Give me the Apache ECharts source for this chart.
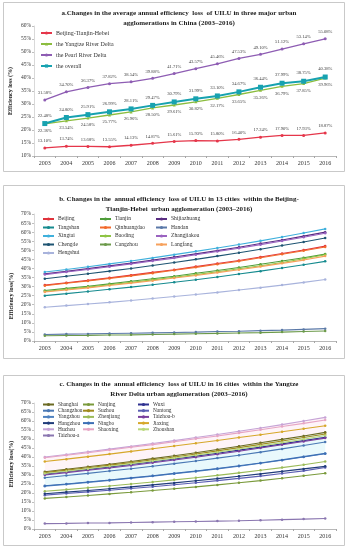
<!DOCTYPE html>
<html><head><meta charset="utf-8">
<script src="https://cdn.jsdelivr.net/npm/echarts@6/dist/echarts.min.js"></script>
<style>html,body{margin:0;padding:0;background:#fff}#c{width:348px;height:550px}</style>
</head><body><div id="c"></div>
<script>
const years = ['2003','2004','2005','2006','2007','2008','2009','2010','2011','2012','2013','2014','2015','2016'];

// Panel a
const aBTH     = [13.10,13.74,13.68,13.55,14.13,14.87,15.61,15.93,15.80,16.40,17.24,17.90,17.93,18.87];
const aYangtze = [22.36,23.54,24.58,25.77,26.96,28.50,29.61,30.82,32.17,33.65,35.26,36.79,37.85,39.96];
const aPearl   = [31.58,34.70,36.37,37.82,38.54,39.88,41.71,43.57,45.46,47.53,49.10,51.12,53.14,55.08];
const aOverall = [22.48,24.80,25.91,26.99,28.11,29.47,30.79,31.99,33.10,34.67,36.44,37.99,38.75,40.38];

// Panel b (Beijing-Tianjin-Hebei cities)
const bBeijing      = [30.8,32.1,33.4,34.8,36.3,37.8,39.3,41.0,42.7,44.4,46.3,48.2,50.2,52.3];
const bTianjin      = [27.8,29.0,30.2,31.5,32.9,34.3,35.7,37.3,38.9,40.5,42.3,44.1,45.9,47.9];
const bShijiazhuang = [37.0,38.4,39.9,41.4,42.9,44.6,46.3,48.0,49.8,51.7,53.7,55.7,57.8,60.0];
const bTangshan     = [25.0,26.1,27.3,28.5,29.7,31.0,32.4,33.8,35.3,36.9,38.5,40.2,42.0,43.9];
const bQinhuangdao  = [30.5,31.8,33.1,34.5,35.9,37.4,39.0,40.6,42.3,44.0,45.9,47.8,49.7,51.8];
const bHandan       = [3.6,3.8,3.9,4.1,4.3,4.5,4.7,4.9,5.2,5.4,5.7,6.0,6.4,6.8];
const bXingtai      = [38.0,39.4,40.9,42.5,44.1,45.8,47.6,49.4,51.3,53.2,55.2,57.3,59.5,61.8];
const bBaoding      = [27.3,28.5,29.7,31.0,32.3,33.7,35.1,36.6,38.2,39.8,41.5,43.3,45.3,47.5];
const bZhangjiakou  = [36.6,38.0,39.4,40.9,42.5,44.1,45.7,47.5,49.3,51.1,53.1,55.1,57.2,59.4];
const bChengde      = [34.3,35.7,37.1,38.5,40.0,41.6,43.3,45.0,46.8,48.6,50.6,52.6,54.6,56.8];
const bCangzhou     = [2.9,3.0,3.1,3.3,3.4,3.6,3.8,4.0,4.2,4.4,4.6,4.9,5.2,5.5];
const bLangfang     = [27.0,28.1,29.3,30.6,31.9,33.2,34.7,36.1,37.7,39.3,41.0,42.8,44.6,46.8];
const bHengshui     = [18.6,19.5,20.4,21.3,22.3,23.4,24.5,25.6,26.8,28.1,29.4,30.8,32.3,33.9];

// Panel c (Yangtze River Delta cities)
const cShanghai  = [31.8,33.2,34.6,36.0,37.5,39.1,40.7,42.4,44.2,46.0,47.9,49.8,51.7,53.7];
const cNanjing   = [17.0,17.8,18.6,19.5,20.4,21.4,22.4,23.4,24.5,25.7,26.9,28.2,29.6,31.0];
const cWuxi      = [30.5,31.8,33.1,34.5,35.9,37.4,38.9,40.5,42.1,43.8,45.5,47.3,49.1,51.0];
const cChangzhou = [28.5,29.7,30.9,32.2,33.5,34.9,36.3,37.8,39.4,41.0,42.7,44.5,46.4,48.3];
const cSuzhou    = [31.3,32.7,34.0,35.5,36.9,38.5,40.0,41.7,43.4,45.2,47.0,48.9,50.8,52.8];
const cNantong   = [18.8,19.7,20.6,21.5,22.5,23.5,24.6,25.7,26.9,28.1,29.4,30.8,32.3,34.2];
const cYangzhou  = [23.8,24.8,25.9,27.0,28.2,29.4,30.7,32.0,33.4,34.9,36.5,38.2,40.0,41.8];
const cZhenjiang = [21.0,21.9,22.9,23.9,25.0,26.1,27.3,28.5,29.8,31.2,32.6,34.1,35.7,37.5];
const cTaizhouB  = [30.0,31.3,32.6,33.9,35.3,36.8,38.3,39.9,41.5,43.2,45.0,46.8,48.6,50.5];
const cHangzhou  = [19.6,20.5,21.4,22.4,23.4,24.5,25.6,26.8,28.0,29.3,30.6,32.0,33.4,34.8];
const cNingbo    = [24.0,25.0,26.1,27.2,28.4,29.6,30.9,32.2,33.6,35.1,36.7,38.4,40.2,42.0];
const cJiaxing   = [37.5,38.8,40.2,41.6,43.1,44.6,46.1,47.6,49.2,50.8,52.4,54.0,55.7,57.4];
const cHuzhou    = [40.0,41.4,42.9,44.4,45.9,47.5,49.1,50.8,52.5,54.3,56.1,58.0,60.0,62.0];
const cShaoxing  = [39.6,41.0,42.4,43.9,45.4,46.9,48.5,50.1,51.7,53.4,55.1,56.9,58.7,60.6];
const cZhoushan  = [30.8,32.1,33.5,34.9,36.3,37.8,39.4,41.0,42.7,44.4,46.2,48.0,49.9,51.9];
const cTaizhouA  = [3.0,3.1,3.3,3.4,3.6,3.8,4.0,4.2,4.4,4.6,4.9,5.2,5.5,5.8];

const FONT = '"Liberation Serif","DejaVu Serif",serif';
const chart = echarts.init(document.getElementById('c'), null, {renderer:'canvas'});

function xAx(gi){
  return {type:'category', gridIndex:gi, data:years, boundaryGap:true,
    axisLine:{lineStyle:{color:'#a6a6a6', width:0.8}},
    axisTick:{show:true, length:2, lineStyle:{color:'#a6a6a6'}},
    axisLabel:{fontFamily:FONT, fontSize:6, color:'#333', margin:4}};
}
function yAx(gi, min, max){
  return {type:'value', gridIndex:gi, min:min, max:max, interval:5,
    axisLine:{show:true, lineStyle:{color:'#bfbfbf', width:0.6}},
    axisTick:{show:true, length:2, lineStyle:{color:'#bfbfbf'}},
    splitLine:{show:false},
    axisLabel:{fontFamily:FONT, fontSize:5.5, color:'#333', margin:3, formatter:v=>v+'%'}};
}

function lineS(name, data, color, gi, opt){
  opt = opt || {};
  return Object.assign({
    name:name, type:'line', xAxisIndex:gi, yAxisIndex:gi, data:data,
    color:color, symbol:'circle', symbolSize:2.5, showSymbol:true,
    lineStyle:{width:1.1, color:color}, itemStyle:{color:color},
    animation:false, z:3
  }, opt);
}

function labelOpt(pos){
  return {show:true, position:pos, distance:3, fontFamily:FONT, fontSize:4.6, color:'#404040',
    formatter:p=>p.value.toFixed(2)+'%'};
}

const series = [];
// Panel a
series.push(lineS('Beijing-Tianjin-Hebei', aBTH, '#e5364a', 0, {lineStyle:{width:1.3,color:'#e5364a'}, symbol:'circle', symbolSize:3, label:labelOpt('top')}));
series.push(lineS('the Yangtze River Delta', aYangtze, '#8cbd3f', 0, {lineStyle:{width:1.3,color:'#8cbd3f'}, symbol:'triangle', symbolSize:3, label:labelOpt('bottom')}));
series.push(lineS('the Pearl River Delta', aPearl, '#8e5db3', 0, {lineStyle:{width:1.3,color:'#8e5db3'}, symbol:'circle', symbolSize:3, label:labelOpt('top')}));
series.push(lineS('the overall', aOverall, '#17a2b0', 0, {lineStyle:{width:2,color:'#17a2b0'}, symbol:'rect', symbolSize:5, label:labelOpt('top')}));

// Panel b
const bDefs = [
 ['Beijing', bBeijing, '#e0333c'], ['Tianjin', bTianjin, '#4f9d3a'], ['Shijiazhuang', bShijiazhuang, '#5a2d82'],
 ['Tangshan', bTangshan, '#168b8f'], ['Qinhuangdao', bQinhuangdao, '#f26a2c'], ['Handan', bHandan, '#5b79a8'],
 ['Xingtai', bXingtai, '#3fb0dc'], ['Baoding', bBaoding, '#8fc444'], ['Zhangjiakou', bZhangjiakou, '#9a63c0'],
 ['Chengde', bChengde, '#1e5472'], ['Cangzhou', bCangzhou, '#6c9a4a'], ['Langfang', bLangfang, '#f6a15c'],
 ['Hengshui', bHengshui, '#a8b3dc']
];
bDefs.forEach(d=>series.push(lineS(d[0], d[1], d[2], 1)));

// Panel c bands (built from the data)
const bandBase = cNingbo;
const bandCyan = cShanghai.map((v,i)=>+(v - cNingbo[i]).toFixed(2));
const bandPink = cHuzhou.map((v,i)=>+(v - cShanghai[i]).toFixed(2));
series.push({type:'line', xAxisIndex:2, yAxisIndex:2, stack:'band', data:bandBase, symbol:'none', lineStyle:{opacity:0}, silent:true, z:1, animation:false});
series.push({type:'line', xAxisIndex:2, yAxisIndex:2, stack:'band', data:bandCyan, symbol:'none', lineStyle:{opacity:0}, areaStyle:{color:'rgba(150,225,240,0.3)'}, silent:true, z:1, animation:false});
series.push({type:'line', xAxisIndex:2, yAxisIndex:2, stack:'band', data:bandPink, symbol:'none', lineStyle:{opacity:0}, areaStyle:{color:'rgba(250,205,220,0.3)'}, silent:true, z:1, animation:false});

const cDefs = [
 ['Shanghai', cShanghai, '#6b6a23'], ['Nanjing', cNanjing, '#7a9a3c'], ['Wuxi', cWuxi, '#2f3190'],
 ['Changzhou', cChangzhou, '#4a78b4'], ['Suzhou', cSuzhou, '#a08a1e'], ['Nantong', cNantong, '#5b5fb3'],
 ['Yangzhou', cYangzhou, '#4f82c0'], ['Zhenjiang', cZhenjiang, '#9bbb59'], ['Taizhou-b', cTaizhouB, '#7a3f9d'],
 ['Hangzhou', cHangzhou, '#203c7a'], ['Ningbo', cNingbo, '#3d6fb5'], ['Jiaxing', cJiaxing, '#d6a72a'],
 ['Huzhou', cHuzhou, '#c6a3d6'], ['Shaoxing', cShaoxing, '#e6a5c4'], ['Zhoushan', cZhoushan, '#b9d77a'],
 ['Taizhou-a', cTaizhouA, '#8a76b0']
];
cDefs.forEach(d=>series.push(lineS(d[0], d[1], d[2], 2)));

function leg(names, left, top, gap, fs){
  return {data:names, orient:'vertical', left:left, top:top, itemGap:gap, itemWidth:11, itemHeight:4,
    textStyle:{fontFamily:FONT, fontSize:fs, color:'#333', padding:[0,0,0,-1]}, selectedMode:false, padding:0};
}

const option = {
  animation:false,
  backgroundColor:'#fff',
  title:[
    {text:'a.Changes in the average annual efficiency  loss  of UILU in three major urban\nagglomerations in China (2003–2016)', left:174, top:6, textAlign:'center', padding:[2,5,2,5],
      textStyle:{fontFamily:FONT, fontSize:7, fontWeight:'bold', color:'#222', lineHeight:10}},
    {text:'b. Changes in the  annual efficiency  loss of UILU in 13 cities  within the Beijing-\nTianjin-Hebei  urban agglomeration (2003–2016)', left:174, top:192, textAlign:'center', padding:[2,5,2,5],
      textStyle:{fontFamily:FONT, fontSize:7, fontWeight:'bold', color:'#222', lineHeight:10}},
    {text:'c. Changes in the  annual efficiency  loss of UILU in 16 cities  within the Yangtze\nRiver Delta urban agglomeration (2003–2016)', left:174, top:377, textAlign:'center', padding:[2,5,2,5],
      textStyle:{fontFamily:FONT, fontSize:7, fontWeight:'bold', color:'#222', lineHeight:10}}
  ],
  legend:[
    leg(['Beijing-Tianjin-Hebei','the Yangtze River Delta','the Pearl River Delta','the overall'], 40, 30, 5, 6),
    leg(['Beijing','Tangshan','Xingtai','Chengde','Hengshui'], 42, 216, 2.5, 5.6),
    leg(['Tianjin','Qinhuangdao','Baoding','Cangzhou'], 99, 216, 2.5, 5.6),
    leg(['Shijiazhuang','Handan','Zhangjiakou','Langfang'], 155, 216, 2.5, 5.6),
    leg(['Shanghai','Changzhou','Yangzhou','Hangzhou','Huzhou','Taizhou-a'], 42, 402, 1.2, 5.4),
    leg(['Nanjing','Suzhou','Zhenjiang','Ningbo','Shaoxing'], 82, 402, 1.2, 5.4),
    leg(['Wuxi','Nantong','Taizhou-b','Jiaxing','Zhoushan'], 137, 402, 1.2, 5.4)
  ],
  grid:[
    {left:34, right:12, top:26, height:130},
    {left:34, right:12, top:214, height:127},
    {left:34, right:12, top:403, height:126}
  ],
  xAxis:[xAx(0), xAx(1), xAx(2)],
  yAxis:[yAx(0,10,60), yAx(1,0,70), yAx(2,0,70)],
  graphic:[
    {type:'rect', shape:{x:3.5,y:2.5,width:341,height:169}, style:{fill:'none', stroke:'#c9c9c9', lineWidth:1}, z:0},
    {type:'rect', shape:{x:3.5,y:185.5,width:341,height:173}, style:{fill:'none', stroke:'#c9c9c9', lineWidth:1}, z:0},
    {type:'rect', shape:{x:3.5,y:375.5,width:341,height:170}, style:{fill:'none', stroke:'#c9c9c9', lineWidth:1}, z:0},
    {type:'text', x:10, y:91, rotation:Math.PI/2, style:{text:'Efficiency loss (%)', font:'bold 6px '+FONT, fill:'#222', align:'center', verticalAlign:'middle'}},
    {type:'text', x:11, y:296, rotation:Math.PI/2, style:{text:'Efficiency loss(%)', font:'bold 6px '+FONT, fill:'#222', align:'center', verticalAlign:'middle'}},
    {type:'text', x:11, y:464, rotation:Math.PI/2, style:{text:'Efficiency loss(%)', font:'bold 6px '+FONT, fill:'#222', align:'center', verticalAlign:'middle'}}
  ],
  series:series
};
chart.setOption(option);
</script>
</body></html>
